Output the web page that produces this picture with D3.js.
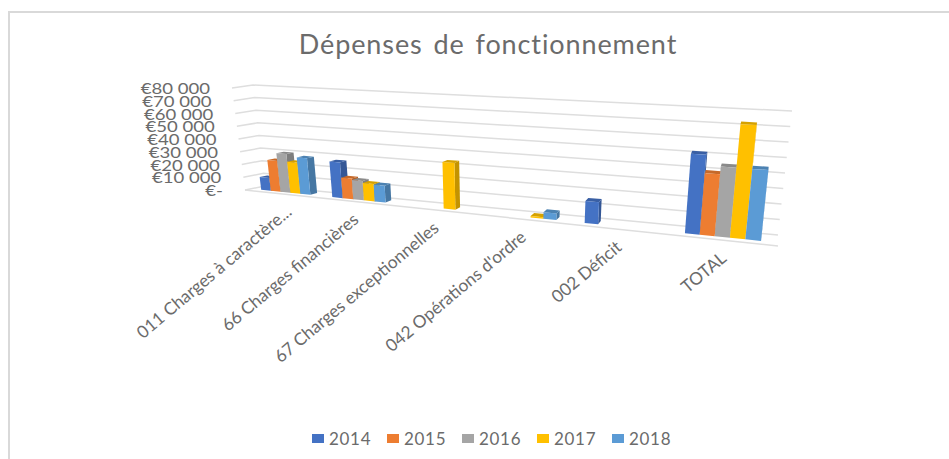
<!DOCTYPE html>
<html><head><meta charset="utf-8">
<script src="https://cdn.jsdelivr.net/npm/d3@7/dist/d3.min.js"></script>
<style>html,body{margin:0;padding:0;background:#fff}svg{display:block}text{font-family:Lato,sans-serif;fill:#6b6b6b}</style>
</head><body><svg id="c" width="949" height="459"></svg>
<script>
const categories = ["011 Charges à caractère...","66 Charges financières","67 Charges exceptionnelles","042 Opérations d'ordre","002 Déficit","TOTAL"];
const years = ["2014","2015","2016","2017","2018"];
const colors = ["#4472c4","#ed7d31","#a5a5a5","#ffc000","#5b9bd5"];
const v2014 = [10000,27000,0,0,15000,52000];
const v2015 = [24000,15500,0,0,0,40000];
const v2016 = [30000,14500,0,0,0,45000];
const v2017 = [24000,13000,33500,1000,0,73000];
const v2018 = [28000,12500,0,4500,0,45000];
const series = [v2014,v2015,v2016,v2017,v2018];
const ticks = [0,10000,20000,30000,40000,50000,60000,70000,80000];
const tickLabels = ["€-","€10 000","€20 000","€30 000","€40 000","€50 000","€60 000","€70 000","€80 000"];

const svg = d3.select("#c");
const K = 1.3;
const xS = d3.scaleBand().domain(categories).range([0,1]).paddingInner(0.3).paddingOuter(0.15);
const sS = d3.scaleBand().domain(years).range([0,xS.bandwidth()]);
const vS = d3.scaleLinear().domain([0,80000]).range([0,1]);
const corners = {
  fl0:[245,190], fl1:[232,88], fr0:[778,246], fr1:[792,118],
  bl0:[265,186], bl1:[253,85], br0:[778,235], br1:[792,111]
};
const mix=(a,b,t)=>[a[0]+(b[0]-a[0])*t,a[1]+(b[1]-a[1])*t];
function P(x,d,h){
  const s = x/(x+K*(1-x));
  const f0=mix(corners.fl0,corners.fr0,s), f1=mix(corners.fl1,corners.fr1,s);
  const b0=mix(corners.bl0,corners.br0,s), b1=mix(corners.bl1,corners.br1,s);
  return mix(mix(f0,f1,h),mix(b0,b1,h),d);
}
const path=pts=>"M"+pts.map(p=>p[0].toFixed(2)+","+p[1].toFixed(2)).join("L")+"Z";

// frame
svg.append("path").attr("d","M9,459V12H949").attr("fill","none").attr("stroke","#d9d9d9").attr("stroke-width",2);

// title
svg.append("text").attr("x",488).attr("y",54).attr("text-anchor","middle").attr("font-size",27)
  .style("letter-spacing","0.9px").style("word-spacing","3px").attr("fill","#595959").text("Dépenses de fonctionnement");

// gridlines
const grid="#dedede";
ticks.forEach(t=>{
  const h=vS(t);
  svg.append("path").attr("d","M"+[P(0,0,h),P(0,1,h),P(1,1,h)].map(p=>p.join(",")).join("L"))
    .attr("fill","none").attr("stroke",grid).attr("stroke-width",1.5);
});
svg.append("path").attr("d","M"+[P(0,0,0),P(1,0,0)].map(p=>p.join(",")).join("L"))
  .attr("fill","none").attr("stroke",grid).attr("stroke-width",1.5);

// tick labels
ticks.forEach((t,i)=>{
  const p=P(0,0,vS(t));
  svg.append("text").attr("transform",`translate(${p[0]-22},${p[1]+6}) scale(1.16,1)`).attr("text-anchor","end").attr("font-size",16).text(tickLabels[i]);
});

// bars
const dark=(c,k)=>d3.color(c).darker(k).formatHex();
const D0=0.3,D1=0.68;
categories.forEach((c,ci)=>{
  years.forEach((y,si)=>{
    const val=series[si][ci]; if(!val) return;
    const x0=xS(c)+sS(y), x1=x0+sS.bandwidth(), h=vS(val), col=colors[si];
    const g=svg.append("g");
    g.append("path").attr("d",path([P(x1,D0,0),P(x1,D1,0),P(x1,D1,h),P(x1,D0,h)])).attr("fill",dark(col,0.75));
    g.append("path").attr("d",path([P(x0,D0,h),P(x1,D0,h),P(x1,D1,h),P(x0,D1,h)])).attr("fill",dark(col,0.5));
    g.append("path").attr("d",path([P(x0,D0,0),P(x1,D0,0),P(x1,D0,h),P(x0,D0,h)])).attr("fill",col);
  });
});

// category labels
categories.forEach((c,i)=>{
  const p=P(xS(c)+xS.bandwidth()/2,0,0);
  const nudge = i===0 ? 7 : 0;
  svg.append("text").attr("transform",`translate(${p[0]+6+nudge},${p[1]+20}) rotate(-40)`)
    .attr("text-anchor","end").attr("font-size",17.3).text(c);
});

// legend
const lx=d3.scalePoint().domain(years).range([312,612]);
years.forEach((y,i)=>{
  svg.append("rect").attr("x",lx(y)).attr("y",434).attr("width",12).attr("height",9).attr("fill",colors[i]);
  svg.append("text").attr("x",lx(y)+17).attr("y",445).attr("font-size",17).style("letter-spacing","0.7px").text(y);
});
</script></body></html>
